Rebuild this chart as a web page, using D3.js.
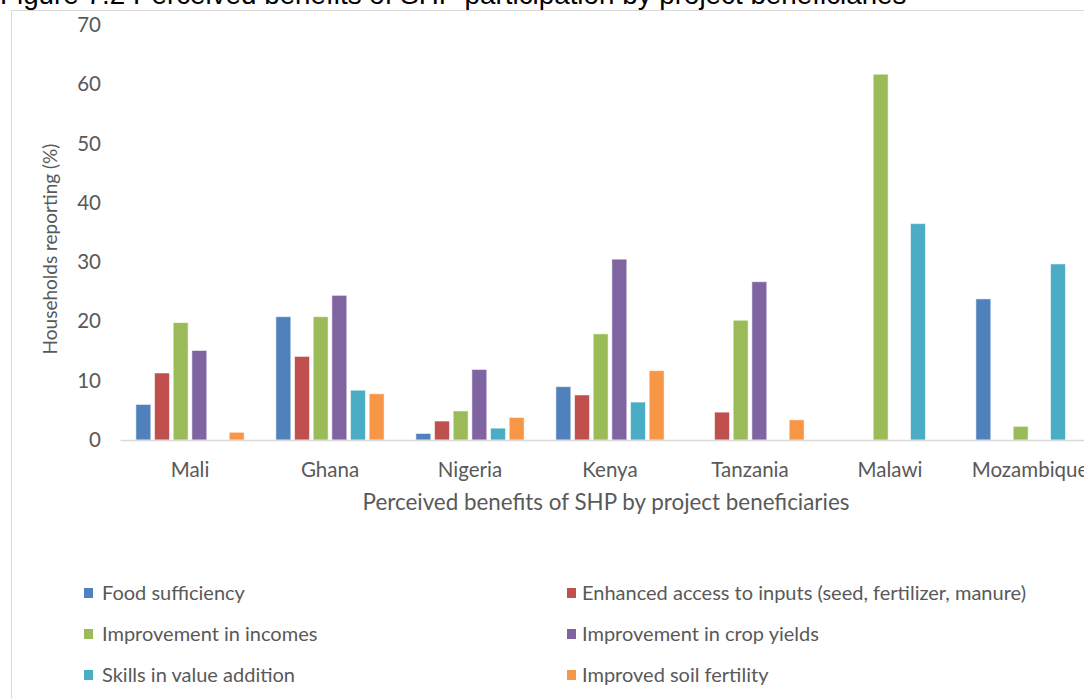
<!DOCTYPE html>
<html>
<head>
<meta charset="utf-8">
<script src="https://cdn.jsdelivr.net/npm/d3@7"></script>
<style>
  html, body { margin: 0; padding: 0; background: #fff; overflow: hidden; }
  svg { display: block; }
</style>
</head>
<body>
<svg id="chart" width="1084" height="698"></svg>
<script>
// Countries on the category axis
const countries = ["Mali", "Ghana", "Nigeria", "Kenya", "Tanzania", "Malawi", "Mozambique"];

// Benefit series (households reporting, %), one value per country
const seriesNames = [
  "Food sufficiency",
  "Enhanced access to inputs (seed, fertilizer, manure)",
  "Improvement in incomes",
  "Improvement in crop yields",
  "Skills in value addition",
  "Improved soil fertility"
];
const foodSufficiency   = [6.0, 20.8, 1.1, 9.0, 0, 0, 23.8];
const accessToInputs    = [11.3, 14.1, 3.2, 7.6, 4.7, 0, 0];
const improvedIncomes   = [19.8, 20.8, 4.9, 17.9, 20.2, 61.7, 2.3];
const improvedYields    = [15.1, 24.4, 11.9, 30.5, 26.7, 0, 0];
const valueAddition     = [0, 8.4, 2.0, 6.4, 0, 36.5, 29.7];
const soilFertility     = [1.3, 7.8, 3.8, 11.7, 3.4, 0, 0];

const yTicks = [0, 10, 20, 30, 40, 50, 60, 70];
const colors = ["#4F81BD", "#C0504D", "#9BBB59", "#8064A2", "#4BACC6", "#F79646"];

const seriesValues = [foodSufficiency, accessToInputs, improvedIncomes, improvedYields, valueAddition, soilFertility];

const svg = d3.select("#chart");
const textFont = "Lato, 'Open Sans', sans-serif";
const textGray = "#595959";

// Figure caption, partly cut by the page top
svg.append("text")
  .attr("x", 0).attr("y", 3.5)
  .attr("font-family", "'Liberation Sans', Arial, sans-serif")
  .attr("font-size", 27.8)
  .attr("fill", "#000")
  .text("Figure 7.2 Perceived benefits of SHP participation by project beneficiaries");

// Chart frame
svg.append("rect")
  .attr("x", 11.5).attr("y", 10.5)
  .attr("width", 1100).attr("height", 700)
  .attr("fill", "none").attr("stroke", "#d9d9d9").attr("stroke-width", 1);

// Scales
const x0 = d3.scaleBand().domain(countries).range([120, 1100]).padding(0);
const x1 = d3.scaleBand().domain(d3.range(seriesNames.length))
  .range([14, x0.bandwidth() - 14]).paddingInner(0.2).paddingOuter(0.1);
const y = d3.scaleLinear().domain([0, 70]).range([440, 25]);

// Y axis labels
const yAxis = svg.append("g").attr("transform", "translate(101,0)")
  .call(d3.axisLeft(y).tickValues(yTicks).tickSize(0).tickPadding(0));
yAxis.select(".domain").remove();
yAxis.selectAll("text")
  .attr("font-family", textFont).attr("font-size", 20.5).attr("fill", textGray);

// Bars
const groups = svg.append("g").selectAll("g")
  .data(countries)
  .join("g")
  .attr("transform", d => `translate(${x0(d)},0)`);

groups.selectAll("rect")
  .data((c, ci) => seriesValues.map((vals, si) => ({ si, v: vals[ci] })).filter(d => d.v > 0))
  .join("rect")
  .attr("x", d => x1(d.si))
  .attr("width", x1.bandwidth())
  .attr("y", d => y(d.v))
  .attr("height", d => y(0) - y(d.v))
  .attr("fill", d => colors[d.si])
  .attr("stroke", "rgba(255,255,255,0.55)")
  .attr("stroke-width", 1);

// Category axis
const xAxis = svg.append("g").attr("transform", "translate(0,440)")
  .call(d3.axisBottom(x0).tickSize(0).tickPadding(22));
xAxis.select(".domain").attr("stroke", "#d9d9d9").attr("stroke-width", 1.5);
xAxis.selectAll("text")
  .attr("font-family", textFont).attr("font-size", 20.5).attr("fill", textGray);

// Axis titles
svg.append("text")
  .attr("x", 606).attr("y", 510)
  .attr("text-anchor", "middle")
  .attr("font-family", textFont).attr("font-size", 22.4).attr("fill", textGray)
  .text("Perceived benefits of SHP by project beneficiaries");

svg.append("text")
  .attr("transform", "translate(57,249) rotate(-90)")
  .attr("text-anchor", "middle")
  .attr("font-family", textFont).attr("font-size", 19).attr("fill", textGray)
  .text("Households reporting (%)");

// Legend, two columns by three rows
const legend = svg.append("g").selectAll("g")
  .data(seriesNames)
  .join("g")
  .attr("transform", (d, i) => `translate(${i % 2 === 0 ? 84 : 567},${593 + Math.floor(i / 2) * 41})`);

legend.append("rect")
  .attr("x", 0).attr("y", -5).attr("width", 9).attr("height", 10)
  .attr("fill", (d, i) => colors[i]);

legend.append("text")
  .attr("x", (d, i) => i % 2 === 0 ? 18 : 15)
  .attr("y", 0).attr("dy", "0.35em")
  .attr("font-family", textFont).attr("font-size", 20).attr("fill", textGray)
  .text(d => d);
</script>
</body>
</html>
